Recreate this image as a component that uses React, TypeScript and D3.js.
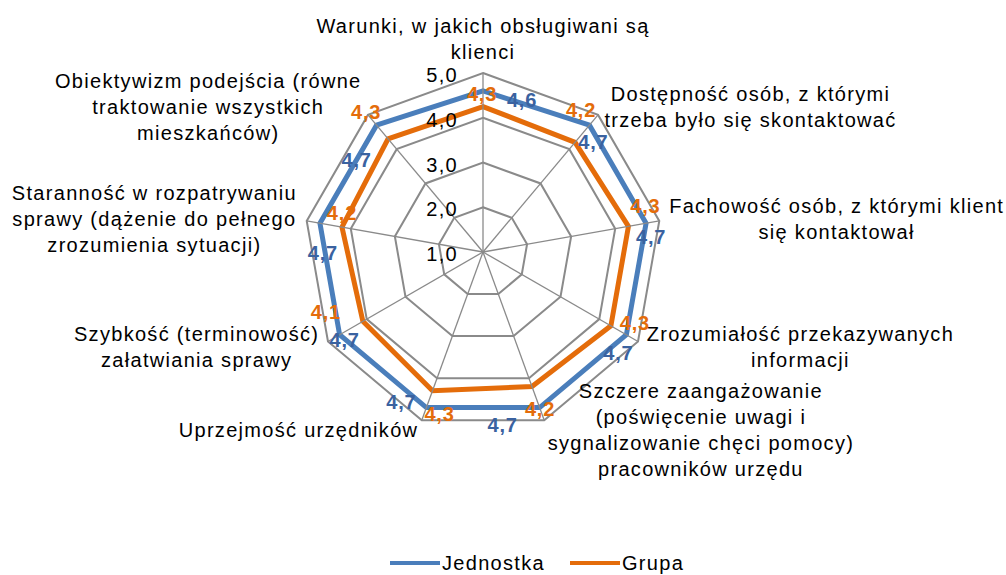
import React, { useEffect, useRef } from "react";
import * as d3 from "d3";

// ---- Data ----
const CATEGORIES: string[][] = [
  ["Warunki, w jakich obsługiwani są", "klienci"],
  ["Dostępność osób, z którymi", "trzeba było się skontaktować"],
  ["Fachowość osób, z którymi klient", "się kontaktował"],
  ["Zrozumiałość przekazywanych", "informacji"],
  ["Szczere zaangażowanie", "(poświęcenie uwagi i", "sygnalizowanie chęci pomocy)", "pracowników urzędu"],
  ["Uprzejmość urzędników"],
  ["Szybkość (terminowość)", "załatwiania sprawy"],
  ["Staranność w rozpatrywaniu", "sprawy (dążenie do pełnego", "zrozumienia sytuacji)"],
  ["Obiektywizm podejścia (równe", "traktowanie wszystkich", "mieszkańców)"],
];
const JEDNOSTKA = [4.6, 4.7, 4.7, 4.7, 4.7, 4.7, 4.7, 4.7, 4.7];
const GRUPA = [4.25, 4.2, 4.3, 4.3, 4.2, 4.3, 4.1, 4.2, 4.3];
const TICKS = [1, 2, 3, 4, 5];
const SERIES_NAMES = ["Jednostka", "Grupa"];

// ---- Layout / style (label nudges relative to their points) ----
const OFFSET_J: [number, number][] = [
  [39, 9], [4, 17], [5, 14], [-8, 18], [-37, 17], [-25, -6], [5, 5], [3, 30], [-20, 35],
];
const OFFSET_G: [number, number][] = [
  [-1, -13], [6, -32], [17, -20], [24, -3], [8, 22], [7, 23], [-37, -9], [0, -14], [-22, -27],
];

const W = 1006, H = 575;
const CX = 483, CY = 252, R = 179;
const FONT = "'Liberation Sans', Arial, sans-serif";
const BLUE = "#4A7EBB", BLUE_LBL = "#3A62A0";
const ORANGE = "#E46C0A";
const GRID = "#8A8A8A";

export default function App() {
  const ref = useRef<SVGSVGElement | null>(null);

  useEffect(() => {
    const svg = d3.select(ref.current);
    svg.selectAll("*").remove();

    const n = CATEGORIES.length;
    const step = (2 * Math.PI) / n;
    const r = d3.scaleLinear().domain([1, 5]).range([0, R]);
    const fmt = (v: number) => d3.format(".1f")(v).replace(".", ",");
    const pt = (i: number, rad: number): [number, number] => [
      CX + rad * Math.sin(i * step),
      CY - rad * Math.cos(i * step),
    ];

    const g = svg.append("g");
    const center = g.append("g").attr("transform", `translate(${CX},${CY})`);

    // spokes
    d3.range(n).forEach((i) => {
      const [x, y] = pt(i, r(5));
      g.append("line")
        .attr("x1", CX).attr("y1", CY).attr("x2", x).attr("y2", y)
        .attr("stroke", GRID).attr("stroke-width", 1.3);
    });

    // rings
    const ringLine = d3
      .lineRadial<number>()
      .angle((_, i) => i * step)
      .radius((d) => r(d))
      .curve(d3.curveLinearClosed);
    TICKS.filter((t) => t > 1).forEach((t) => {
      center.append("path")
        .attr("d", ringLine(d3.range(n).map(() => t)) as string)
        .attr("fill", "none")
        .attr("stroke", GRID)
        .attr("stroke-width", 2);
    });

    // series lines
    const seriesLine = d3
      .lineRadial<number>()
      .angle((_, i) => i * step)
      .radius((d) => r(d))
      .curve(d3.curveLinearClosed);
    center.append("path")
      .attr("d", seriesLine(JEDNOSTKA) as string)
      .attr("fill", "none").attr("stroke", BLUE).attr("stroke-width", 5)
      .attr("stroke-linejoin", "miter");
    center.append("path")
      .attr("d", seriesLine(GRUPA) as string)
      .attr("fill", "none").attr("stroke", ORANGE).attr("stroke-width", 5)
      .attr("stroke-linejoin", "miter");

    // tick labels
    TICKS.forEach((t) => {
      g.append("text")
        .attr("x", CX - 25)
        .attr("y", CY - r(t) + 2 + 7)
        .attr("text-anchor", "end")
        .attr("font-family", FONT).attr("font-size", 20)
        .attr("letter-spacing", 1.3)
        .attr("fill", "#000")
        .text(fmt(t));
    });

    // data labels
    const addLabels = (vals: number[], offs: [number, number][], color: string) => {
      vals.forEach((v, i) => {
        const [x, y] = pt(i, r(v));
        g.append("text")
          .attr("x", x + offs[i][0])
          .attr("y", y + offs[i][1] + 7)
          .attr("text-anchor", "middle")
          .attr("font-family", FONT).attr("font-size", 20).attr("font-weight", "bold")
          .attr("letter-spacing", 0.8)
          .attr("fill", color)
          .text(fmt(v));
      });
    };
    addLabels(JEDNOSTKA, OFFSET_J, BLUE_LBL);
    addLabels(GRUPA, OFFSET_G, ORANGE);

    // category labels
    const LH = 26;
    CATEGORIES.forEach((lines, i) => {
      const a = i * step;
      const s = Math.sin(a), c = Math.cos(a);
      const [px, py] = pt(i, r(5) + 10);
      const grp = g.append("g");
      const texts = lines.map((ln) =>
        grp.append("text")
          .attr("text-anchor", "middle")
          .attr("font-family", FONT).attr("font-size", 20)
          .attr("letter-spacing", 1.3)
          .attr("fill", "#000")
          .text(ln)
      );
      let w = 0;
      texts.forEach((t) => {
        const bb = (t.node() as SVGTextElement).getBBox();
        w = Math.max(w, bb.width);
      });
      let x = px;
      if (s > 0.05) x = px + w / 2;
      else if (s < -0.05) x = px - w / 2;
      const m = lines.length;
      texts.forEach((t, k) => {
        let yc: number;
        if (Math.abs(s) <= 0.05 && c > 0) {
          yc = py - (m - 1 - k) * LH - LH / 2 + 2;
        } else {
          yc = py + (k - (m - 1) / 2) * LH;
        }
        t.attr("x", x).attr("y", yc + 7);
      });
    });

    // legend
    const legend = [
      { name: SERIES_NAMES[0], color: BLUE, x: 390 },
      { name: SERIES_NAMES[1], color: ORANGE, x: 570 },
    ];
    legend.forEach((L) => {
      g.append("line")
        .attr("x1", L.x).attr("x2", L.x + 50)
        .attr("y1", 563).attr("y2", 563)
        .attr("stroke", L.color).attr("stroke-width", 4);
      g.append("text")
        .attr("x", L.x + 52).attr("y", 570)
        .attr("font-family", FONT).attr("font-size", 20)
        .attr("letter-spacing", 1.3)
        .attr("fill", "#000")
        .text(L.name);
    });
  }, []);

  return (
    <svg
      ref={ref}
      width={W}
      height={H}
      style={{ position: "absolute", left: 0, top: 0, background: "#fff" }}
    />
  );
}
